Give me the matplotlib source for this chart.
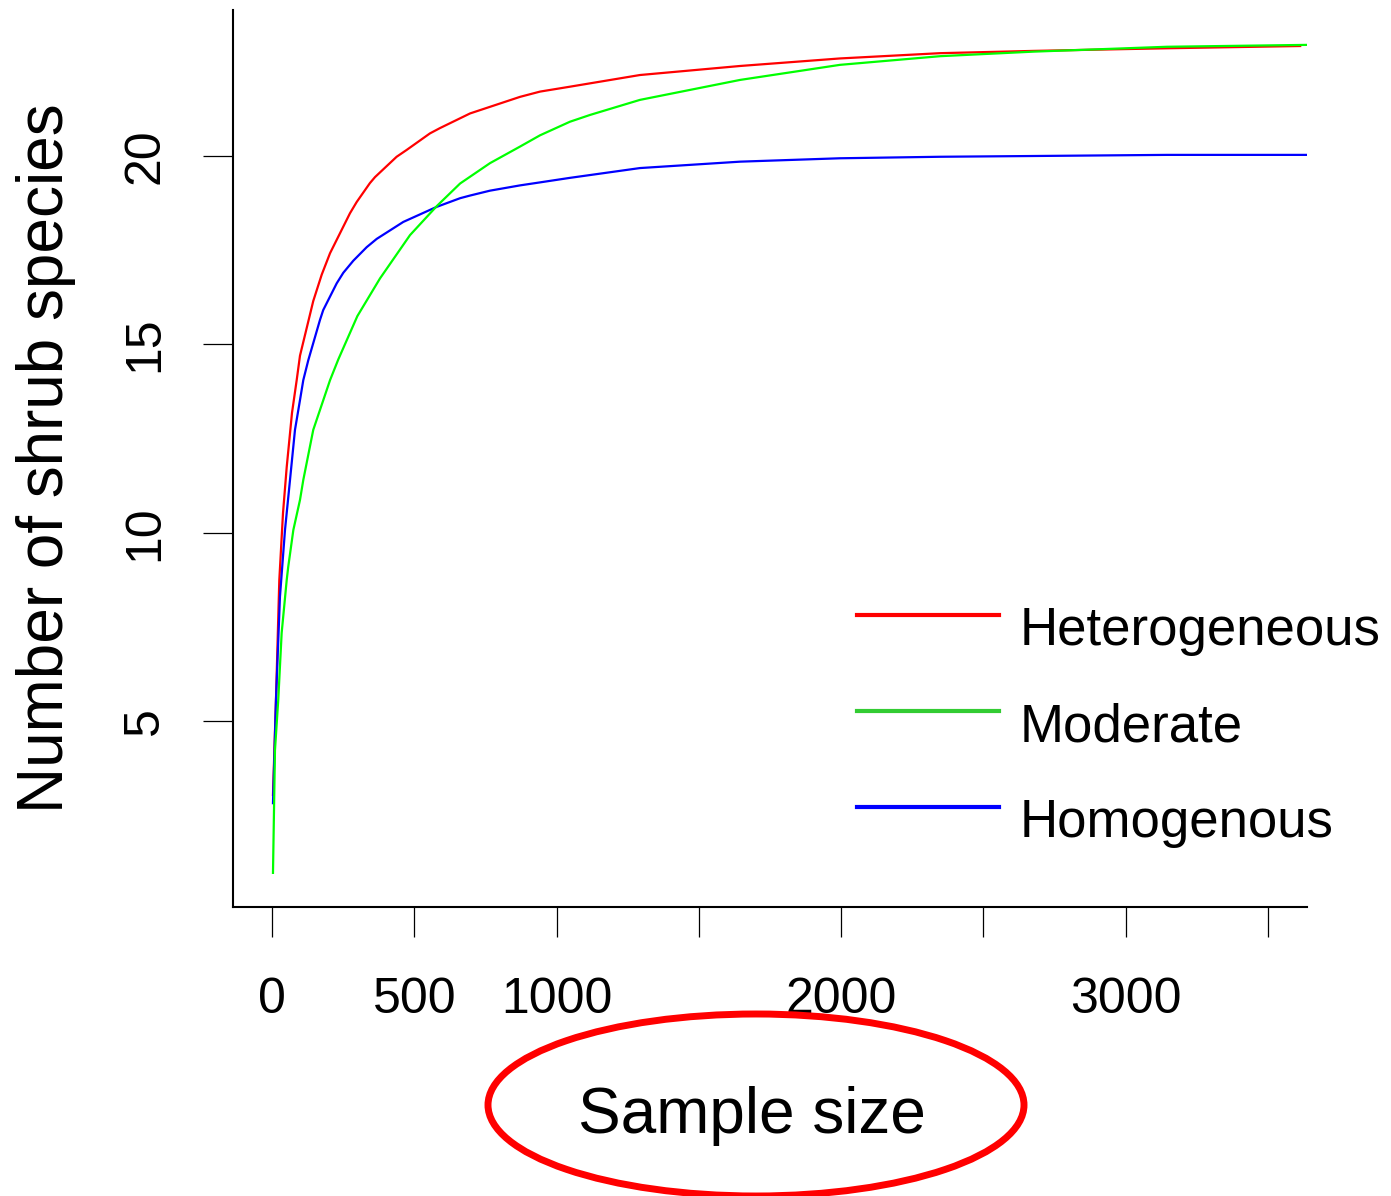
import matplotlib
matplotlib.use("Agg")
import matplotlib.pyplot as plt
from matplotlib.patches import Ellipse
from matplotlib.lines import Line2D

plt.rcParams['font.family'] = ['Liberation Sans', 'DejaVu Sans']

# ---- data ----
het_x = [3.5, 14, 25.7, 38.7, 51.7, 70.3, 86.8, 98.4, 145, 174.7, 204, 274, 297.7, 344, 362, 438, 473,
         555, 590, 696, 871.5, 942, 1047, 1293, 1645, 1996, 2348, 2674, 3145, 3613]
het_y = [3.04, 5.56, 8.74, 10.52, 11.74, 13.18, 14.05, 14.70, 16.15, 16.85, 17.42, 18.48, 18.78, 19.28, 19.44, 19.98, 20.16,
         20.60, 20.74, 21.13, 21.57, 21.71, 21.84, 22.15, 22.39, 22.59, 22.73, 22.79, 22.86, 22.92]

mod_x = [3.5, 10.5, 22, 34, 51.7, 57, 75, 98.4, 110, 145, 204, 233, 300, 379.5, 485, 579, 661, 696, 766,
         871.5, 942, 1047, 1117.5, 1293, 1645, 1996, 2348, 2674, 3145, 3637]
mod_y = [0.97, 4.23, 5.56, 7.34, 8.74, 9.09, 10.07, 10.87, 11.40, 12.73, 14.05, 14.60, 15.75, 16.75, 17.90, 18.67, 19.27, 19.45, 19.81,
         20.25, 20.55, 20.91, 21.09, 21.49, 22.02, 22.42, 22.65, 22.77, 22.90, 22.95]

hom_x = [3.5, 14, 28, 45.7, 63.3, 80.8, 98.4, 110, 127.6, 168.7, 180, 227.4, 250.6, 285.7, 332.8, 368, 461.4,
         578.8, 661, 695.8, 766, 871.5, 942, 1047, 1293, 1645, 1996, 2348, 2674, 3145, 3637]
hom_y = [2.82, 5.56, 8.30, 10.07, 11.40, 12.73, 13.52, 14.05, 14.58, 15.65, 15.91, 16.62, 16.90, 17.22, 17.58, 17.80, 18.25,
         18.65, 18.88, 18.95, 19.08, 19.22, 19.30, 19.42, 19.68, 19.85, 19.94, 19.98, 20.0, 20.03, 20.03]

series_names = ["Heterogeneous", "Moderate", "Homogenous"]
x_ticks = [0, 500, 1000, 1500, 2000, 2500, 3000, 3500]
x_tick_labels = ["0", "500", "1000", "", "2000", "", "3000", ""]
y_ticks = [5, 10, 15, 20]
y_tick_labels = ["5", "10", "15", "20"]

W, H = 1391, 1196
fig = plt.figure(figsize=(W / 100, H / 100), dpi=100)
ax = fig.add_axes([233 / W, 1 - 907 / H, (1307 - 233) / W, (907 - 10) / H])

ax.plot(het_x, het_y, color="#FF0000", lw=1.6, solid_joinstyle="round")
ax.plot(hom_x, hom_y, color="#0000FF", lw=1.6, solid_joinstyle="round")
ax.plot(mod_x, mod_y, color="#00FF00", lw=1.6, solid_joinstyle="round")

ax.set_xlim(-137, 3637)
ax.set_ylim(0.064, 23.876)

for s in ["top", "right"]:
    ax.spines[s].set_visible(False)
for s in ["left", "bottom"]:
    ax.spines[s].set_linewidth(1.5)
    ax.spines[s].set_color("black")

ax.set_xticks(x_ticks)
ax.set_xticklabels(x_tick_labels)
ax.set_yticks(y_ticks)
ax.set_yticklabels(y_tick_labels, rotation=90, va="center")
ax.tick_params(axis="both", direction="out", length=21.6, width=0.9, labelsize=36, color="black")
ax.tick_params(axis="x", pad=29)
ax.tick_params(axis="y", pad=25)

ax.set_ylabel("Number of shrub species", fontsize=46, labelpad=33)
ax.set_xlabel("Sample size", fontsize=46, va="center")
ax.xaxis.set_label_coords((752 - 233) / 1074, (907 - 1116) / 897)

# legend drawn manually (no frame)
leg_colors = ["#FF0000", "#33CC33", "#0000FF"]
leg_y = [615, 711, 807]
for name, c, yy in zip(series_names, leg_colors, leg_y):
    fig.add_artist(Line2D([857 / W, 999 / W], [1 - yy / H, 1 - yy / H], color=c, lw=3.0,
                          transform=fig.transFigure))
    fig.text(1020 / W, 1 - (yy + 16) / H, name, fontsize=38, va="center", ha="left")

# red ellipse annotation
fig.add_artist(Ellipse((756 / W, 1 - 1105 / H), 536 / W, 182 / H, transform=fig.transFigure,
                       fill=False, edgecolor="#FF0000", lw=5))

fig.savefig("out.png", dpi=100)
